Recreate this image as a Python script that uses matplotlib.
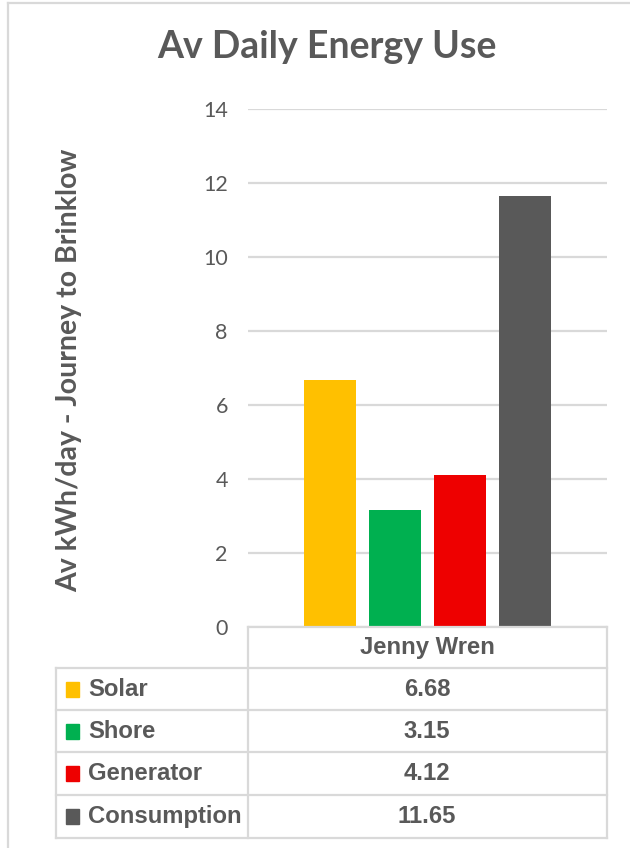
import matplotlib
matplotlib.use('Agg')
from matplotlib import pyplot as plt
from matplotlib.lines import Line2D
from matplotlib.patches import Rectangle

# data
series = ['Solar', 'Shore', 'Generator', 'Consumption']
values = [6.68, 3.15, 4.12, 11.65]
colors = ['#FFC000', '#00B050', '#EE0000', '#595959']
category = 'Jenny Wren'
yticks = [0, 2, 4, 6, 8, 10, 12, 14]

W, H = 630, 848
TXT = '#595959'
GRID = '#D9D9D9'
narrow = ['Liberation Sans Narrow', 'Liberation Sans', 'DejaVu Sans']


# pixel -> figure fraction
def fx(x):
    return x / W


def fy(y):
    return 1 - y / H


def hline(fig, x0, x1, y):
    fig.add_artist(Line2D([fx(x0), fx(x1)], [fy(y), fy(y)], color=GRID, lw=1.6))


def vline(fig, x, y0, y1):
    fig.add_artist(Line2D([fx(x), fx(x)], [fy(y0), fy(y1)], color=GRID, lw=1.6))


fig = plt.figure(figsize=(W / 100, H / 100), dpi=100)

# chart border (left and top visible)
vline(fig, 8, 3, 848)
hline(fig, 8, 630, 3)

left, right, top, bottom = 248, 607, 109, 627
ax = fig.add_axes([fx(left), fy(bottom), (right - left) / W, (bottom - top) / H])

step = 65 / (right - left)
width = 52 / (right - left)
for i, (v, c) in enumerate(zip(values, colors)):
    ax.bar((i - 1.5) * step, v, width=width, color=c, zorder=3)

ax.set_xlim(-0.5, 0.5)
ax.set_ylim(0, 14)
ax.set_yticks(yticks)
ax.set_yticklabels([str(t) for t in yticks], family='Lato', fontsize=15.5, color=TXT)
ax.tick_params(axis='y', length=0, pad=14.5)
ax.set_xticks([])
ax.yaxis.grid(True, color=GRID, lw=1.6, zorder=0)
for s in ax.spines.values():
    s.set_visible(False)

fig.text(fx(327), fy(47), 'Av Daily Energy Use', ha='center', va='center',
         family='Lato', fontweight='bold', fontsize=27, color=TXT)
fig.text(fx(69), fy(370), 'Av kWh/day - Journey to Brinklow', ha='center', va='center',
         rotation=90, family='Lato', fontweight='bold', fontsize=20.5, color=TXT)

# data table
rows_y = [627, 668, 710, 752, 795, 838]
hline(fig, 248, 607, rows_y[0])
for y in rows_y[1:]:
    hline(fig, 56, 607, y)
vline(fig, 56, 668, 838)
vline(fig, 248, 627, 838)
vline(fig, 607, 627, 838)

fs = 17.2
fig.text(fx(427), fy((627 + 668) / 2), category, ha='center', va='center',
         family=narrow, fontweight='bold', fontsize=fs, color=TXT)
for i, (name, v, c) in enumerate(zip(series, values, colors)):
    yc = (rows_y[i + 1] + rows_y[i + 2]) / 2
    fig.add_artist(Rectangle((fx(66), fy(yc + 7.5)), 13 / W, 15 / H, color=c,
                             transform=fig.transFigure))
    fig.text(fx(88), fy(yc), name, ha='left', va='center',
             family=narrow, fontweight='bold', fontsize=fs, color=TXT)
    fig.text(fx(427), fy(yc), f'{v:.2f}', ha='center', va='center',
             family=narrow, fontweight='bold', fontsize=fs, color=TXT)

fig.savefig('out.png', dpi=100)
